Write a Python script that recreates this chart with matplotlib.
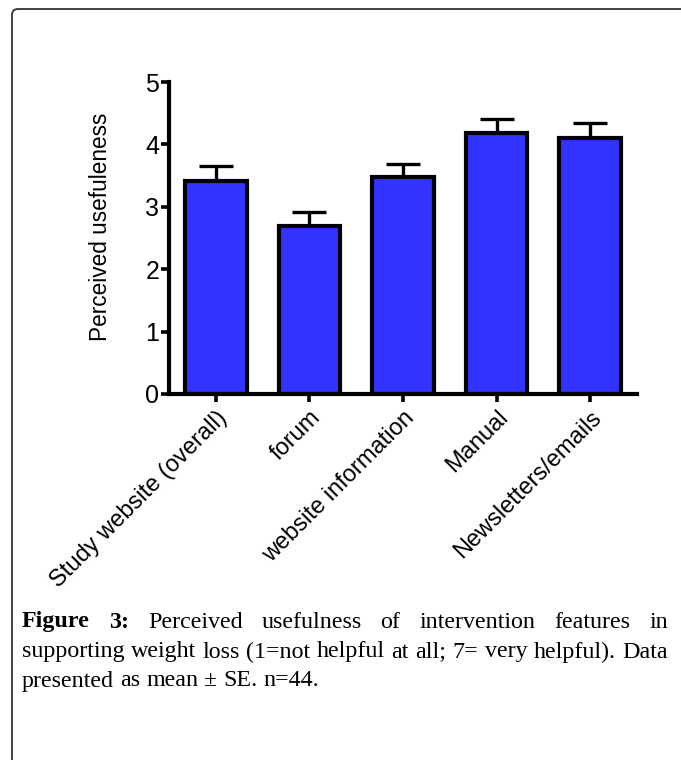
import matplotlib
matplotlib.use("Agg")
import matplotlib.pyplot as plt
from matplotlib.patches import FancyBboxPatch
from matplotlib.transforms import IdentityTransform

categories = ["Study website (overall)", "forum", "website information", "Manual", "Newsletters/emails"]
means = [3.41, 2.70, 3.48, 4.18, 4.11]
se = [0.24, 0.21, 0.21, 0.22, 0.23]
yticks = [0, 1, 2, 3, 4, 5]
ylabel = "Perceived usefuleness"
caption_lines = [
    ["Figure", "3:", "Perceived", "usefulness", "of", "intervention", "features", "in"],
    "supporting weight loss (1=not helpful at all; 7= very helpful). Data".split(" "),
    "presented as mean \u00b1 SE. n=44.".split(" "),
]

W, H = 681, 760
fig = plt.figure(figsize=(W / 100, H / 100), dpi=100)

def fx(px):
    return px / W

def fy(py):
    return 1 - py / H

ax = fig.add_axes([fx(169), fy(394), fx(637) - fx(169), fy(82) - fy(394)])
x = list(range(len(categories)))
ax.bar(x, means, width=0.66, color="#3333FF", edgecolor="black", linewidth=3.0, zorder=2)
ax.errorbar(x, means, yerr=[[0] * len(se), se], fmt="none", ecolor="black",
            elinewidth=2.4, capsize=12.5, capthick=2.4, zorder=1)
ax.set_xlim(-0.5, 4.5)
ax.set_ylim(0, 5)
ax.set_yticks(yticks)
ax.set_xticks(x)
ax.set_xticklabels(categories, rotation=45, ha="right", rotation_mode="anchor",
                   fontsize=17, family="Liberation Sans")
for lab in ax.get_yticklabels():
    lab.set_family("Liberation Sans")
    lab.set_fontsize(18)
ax.set_ylabel(ylabel, fontsize=16.3, family="Liberation Sans")
ax.yaxis.set_label_coords(-0.122, 0.535)
for s in ["top", "right"]:
    ax.spines[s].set_visible(False)
for s in ["left", "bottom"]:
    ax.spines[s].set_linewidth(3.0)
ax.tick_params(axis="both", direction="out", width=2.6, length=6, pad=1)
ax.tick_params(axis="x", pad=3)

# frame
frame = FancyBboxPatch((12, -30), 720, 760 - 9 + 30, boxstyle="round,pad=0,rounding_size=6",
                       transform=IdentityTransform(), fill=False, edgecolor="#333333",
                       linewidth=1.3, figure=fig)
fig.patches.append(frame)

# caption with justified lines
fig.canvas.draw()
renderer = fig.canvas.get_renderer()
left_px, right_px = 22, 668
line_y = [622, 652, 681]

# choose font size so that line 2 at natural spacing fills the width
probe = fig.text(0, 0, " ".join(caption_lines[1]), fontsize=10, family="Liberation Serif")
pw = probe.get_window_extent(renderer).width
probe.remove()
fs = 10 * (right_px - left_px - 4) / pw

sp = fig.text(0, 0, "a a", fontsize=fs, family="Liberation Serif")
sp2 = fig.text(0, 0, "aa", fontsize=fs, family="Liberation Serif")
space_w = sp.get_window_extent(renderer).width - sp2.get_window_extent(renderer).width
sp.remove(); sp2.remove()

for li, words in enumerate(caption_lines):
    texts = []
    for wi, w in enumerate(words):
        bold = (li == 0 and wi < 2)
        t = fig.text(0, fy(line_y[li]), w, fontsize=fs, family="Liberation Serif",
                     fontweight="bold" if bold else "normal", va="center", ha="left")
        texts.append(t)
    widths = [t.get_window_extent(renderer).width for t in texts]
    if li < 2:
        gap = (right_px - left_px - sum(widths)) / (len(words) - 1)
    else:
        gap = space_w
    cur = left_px
    for t, wd in zip(texts, widths):
        t.set_x(fx(cur))
        cur += wd + gap

fig.savefig("out.png", dpi=100)
